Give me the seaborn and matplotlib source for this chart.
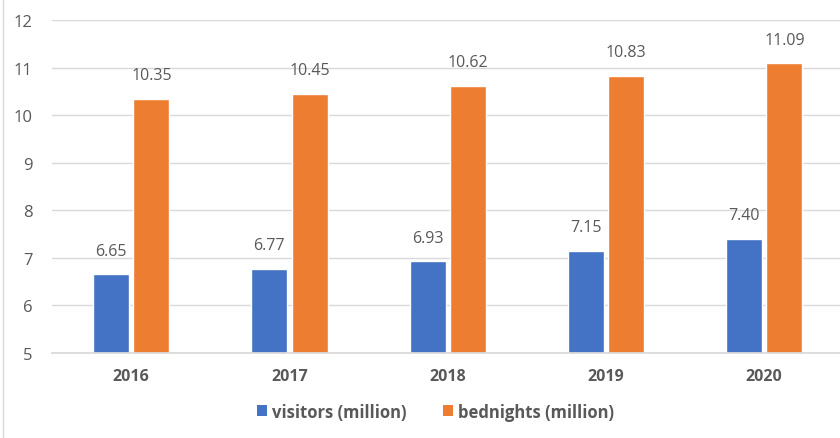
import matplotlib
matplotlib.use("Agg")
import matplotlib.pyplot as plt
from matplotlib.lines import Line2D
from matplotlib.patches import Patch
import seaborn as sns
import pandas as pd

years = ["2016", "2017", "2018", "2019", "2020"]
visitors = [6.65, 6.77, 6.93, 7.15, 7.40]
bednights = [10.35, 10.45, 10.62, 10.83, 11.09]
series_names = ["visitors (million)", "bednights (million)"]
y_ticks = [5, 6, 7, 8, 9, 10, 11, 12]

df = pd.DataFrame({
    "year": years * 2,
    "value": visitors + bednights,
    "series": [series_names[0]] * len(years) + [series_names[1]] * len(years),
})

sns.set_theme(style="white")
plt.rcParams["font.family"] = ["Open Sans", "DejaVu Sans"]

text_color = "#595959"
grid_color = "#d9d9d9"
palette = {series_names[0]: "#4472C4", series_names[1]: "#ED7D31"}

fig = plt.figure(figsize=(8.4, 4.39), dpi=100)
ax = fig.add_axes([0.062, 0.194, 0.942, 0.758])

sns.barplot(data=df, x="year", y="value", hue="series", order=years,
            hue_order=series_names, palette=palette, width=0.51, gap=0.11,
            saturation=1, ax=ax, legend=False)

# bars rise from the axis floor at 5
for container in ax.containers:
    for patch in container:
        h = patch.get_height()
        patch.set_y(5)
        patch.set_height(h - 5)

ax.set_ylim(5, 12)
ax.set_xlim(-0.5, len(years) - 0.5)
ax.set_yticks(y_ticks)
ax.yaxis.grid(True, color=grid_color, linewidth=1)
ax.set_axisbelow(True)
for side in ["top", "right", "left"]:
    ax.spines[side].set_visible(False)
ax.spines["bottom"].set_color(grid_color)
ax.tick_params(axis="both", length=0, colors=text_color)
ax.tick_params(axis="y", labelsize=12, pad=14)
ax.tick_params(axis="x", labelsize=11.5, pad=11)
for lbl in ax.get_xticklabels():
    lbl.set_fontweight("bold")
ax.set_xlabel("")
ax.set_ylabel("")

# value labels above each bar
values_by_series = [visitors, bednights]
for container, vals in zip(ax.containers, values_by_series):
    labels = [f"{v:.2f}" for v in vals]
    ax.bar_label(container, labels=labels, padding=11, fontsize=11.5,
                 color=text_color)

handles = [Patch(facecolor=palette[s], edgecolor="none") for s in series_names]
leg = fig.legend(handles, series_names, loc="center", bbox_to_anchor=(0.518, 0.06),
                 ncol=2, frameon=False, handlelength=0.6, handleheight=0.6,
                 handletextpad=0.3, columnspacing=2.2,
                 prop={"size": 12, "weight": "bold"})
for t in leg.get_texts():
    t.set_color(text_color)

# thin chart-area border on the left
fig.add_artist(Line2D([0.003, 0.003], [0, 1], transform=fig.transFigure,
                      color=grid_color, linewidth=1))

fig.savefig("out.png", dpi=100, facecolor="white")
